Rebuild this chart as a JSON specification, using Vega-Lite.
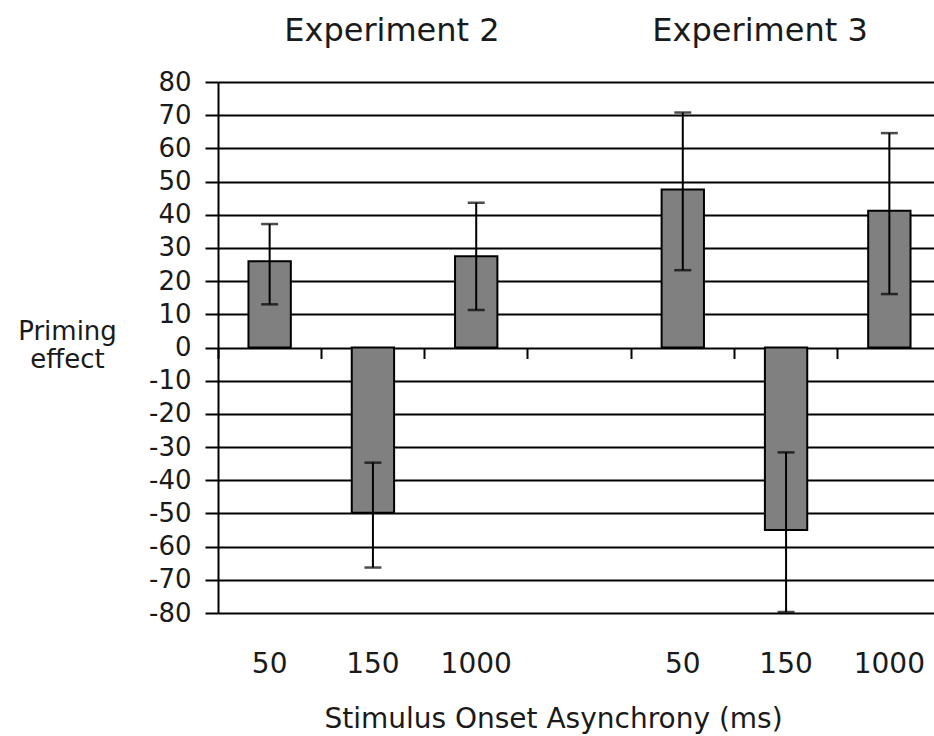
{
  "$schema": "https://vega.github.io/schema/vega-lite/v6.json",
  "autosize": "none",
  "padding": {"left": 218, "top": 82, "right": 0, "bottom": 123},
  "width": 716,
  "height": 531,
  "background": "white",
  "config": {
    "view": {"stroke": null},
    "font": "DejaVu Sans",
    "axis": {"labelFont": "DejaVu Sans", "titleFont": "DejaVu Sans"}
  },
  "data": {
    "values": [
      {"slot": "50_2", "experiment": "Experiment 2", "soa": "50", "effect": 26, "lower": 13, "upper": 37.2},
      {"slot": "150_2", "experiment": "Experiment 2", "soa": "150", "effect": -49.8, "lower": -66.3, "upper": -34.7},
      {"slot": "1000_2", "experiment": "Experiment 2", "soa": "1000", "effect": 27.5, "lower": 11.3, "upper": 43.6},
      {"slot": "50_3", "experiment": "Experiment 3", "soa": "50", "effect": 47.6, "lower": 23.3, "upper": 70.8},
      {"slot": "150_3", "experiment": "Experiment 3", "soa": "150", "effect": -55, "lower": -79.7, "upper": -31.6},
      {"slot": "1000_3", "experiment": "Experiment 3", "soa": "1000", "effect": 41.2, "lower": 16.1, "upper": 64.6}
    ]
  },
  "layer": [
    {
      "mark": {"type": "bar", "fill": "#808080", "stroke": "#000000", "strokeWidth": 2, "width": {"band": 0.41}},
      "encoding": {
        "x": {
          "field": "slot",
          "type": "nominal",
          "scale": {"domain": ["50_2", "150_2", "1000_2", "_", "50_3", "150_3", "1000_3"], "range": [0, 723], "paddingInner": 0, "paddingOuter": 0},
          "axis": {
            "orient": "bottom",
            "offset": -265.5,
            "bandPosition": 0,
            "domain": false,
            "grid": false,
            "ticks": true,
            "tickSize": 11,
            "tickColor": "#000000",
            "tickWidth": 2,
            "labelExpr": "split(datum.label, '_')[0]",
            "labelOffset": 0,
            "labelPadding": 314,
            "labelBaseline": "alphabetic",
            "labelFontSize": 28,
            "labelColor": "#1a1a1a",
            "labelAngle": 0,
            "labelOverlap": false,
            "labelLimit": 0,
            "title": "Stimulus Onset Asynchrony (ms)",
            "titleFontSize": 28,
            "titleFontWeight": "normal",
            "titleColor": "#1a1a1a",
            "titleX": 335,
            "titleY": 379.5,
            "titleAlign": "center",
            "titleBaseline": "alphabetic"
          }
        },
        "y": {
          "field": "effect",
          "type": "quantitative",
          "scale": {"domain": [-80, 80], "nice": false},
          "axis": {
            "orient": "left",
            "values": [-80, -70, -60, -50, -40, -30, -20, -10, 0, 10, 20, 30, 40, 50, 60, 70, 80],
            "grid": true,
            "gridColor": "#000000",
            "gridWidth": 2,
            "gridOpacity": 1,
            "domain": true,
            "domainColor": "#000000",
            "domainWidth": 2,
            "ticks": true,
            "tickSize": 13,
            "tickColor": "#000000",
            "tickWidth": 2,
            "labelPadding": 14,
            "labelFontSize": 26,
            "labelColor": "#1a1a1a",
            "labelOverlap": false,
            "labelExpr": "'' + datum.value",
            "title": ["Priming", "effect"],
            "titleAngle": 0,
            "titleFontSize": 26,
            "titleFontWeight": "normal",
            "titleColor": "#1a1a1a",
            "titleX": -151,
            "titleY": 249,
            "titleAlign": "center",
            "titleBaseline": "middle",
            "titleLineHeight": 28
          }
        }
      }
    },
    {
      "mark": {"type": "rule", "stroke": "#000000", "strokeWidth": 2},
      "encoding": {
        "x": {
          "field": "slot",
          "type": "nominal",
          "axis": {
            "orient": "top",
            "domain": false,
            "ticks": false,
            "grid": false,
            "labelExpr": "datum.value == '150_2' ? 'Experiment 2' : datum.value == '150_3' ? 'Experiment 3' : ''",
            "labelFontSize": 32,
            "labelColor": "#1a1a1a",
            "labelAngle": 0,
            "labelLimit": 0,
            "labelOffset": {"condition": {"test": "datum.value == '150_2'", "value": 19}, "value": -26},
            "labelPadding": 42,
            "labelBaseline": "alphabetic",
            "labelOverlap": false,
            "title": null
          }
        },
        "y": {"field": "lower", "type": "quantitative", "axis": {"values": [-80, -70, -60, -50, -40, -30, -20, -10, 0, 10, 20, 30, 40, 50, 60, 70, 80], "labelOverlap": false}},
        "y2": {"field": "upper"}
      }
    },
    {
      "mark": {"type": "tick", "color": "#000000", "size": 17, "thickness": 2.5},
      "encoding": {
        "x": {"field": "slot", "type": "nominal", "axis": null},
        "y": {"field": "upper", "type": "quantitative", "axis": {"values": [-80, -70, -60, -50, -40, -30, -20, -10, 0, 10, 20, 30, 40, 50, 60, 70, 80], "labelOverlap": false}}
      }
    },
    {
      "mark": {"type": "tick", "color": "#000000", "size": 17, "thickness": 2.5},
      "encoding": {
        "x": {"field": "slot", "type": "nominal", "axis": null},
        "y": {"field": "lower", "type": "quantitative", "axis": {"values": [-80, -70, -60, -50, -40, -30, -20, -10, 0, 10, 20, 30, 40, 50, 60, 70, 80], "labelOverlap": false}}
      }
    }
  ],
  "resolve": {"axis": {"x": "independent"}}
}
